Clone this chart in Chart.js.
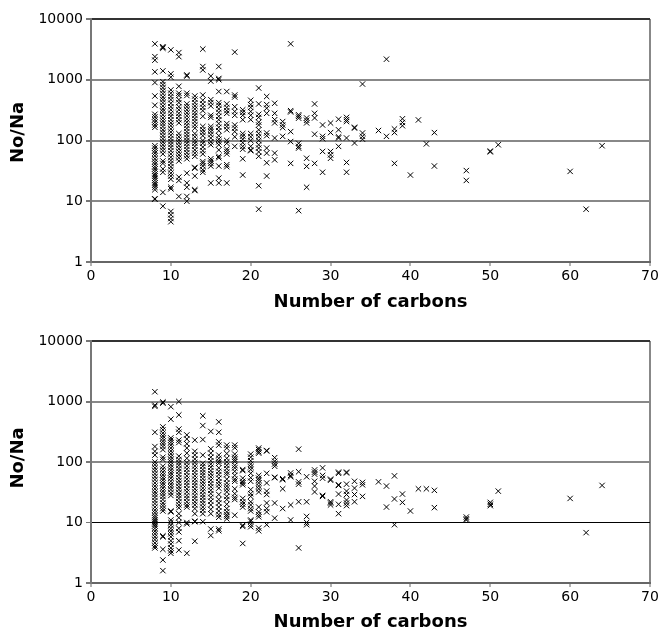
<!DOCTYPE html>
<html>
<head>
<meta charset="utf-8">
<script src="https://cdn.jsdelivr.net/npm/chart.js@4"></script>
<style>
  html, body { margin: 0; padding: 0; background: #fff; }
  #wrap { position: relative; width: 664px; height: 633px; }
  canvas { position: absolute; left: 0; }
</style>
</head>
<body>
<div id="wrap">
  <canvas id="topChart" width="664" height="316" style="top:0"></canvas>
  <canvas id="bottomChart" width="664" height="317" style="top:316px"></canvas>
</div>
<script>
'use strict';

const Y_TICKS = [1, 10, 100, 1000, 10000];
const X_TICKS = [0, 10, 20, 30, 40, 50, 60, 70];

// upper panel: ratios grouped by carbon number
const topCarbons = [8, 9, 10, 11, 12, 13, 14, 15, 16, 17, 18, 19, 20, 21, 22, 23, 24, 25, 26, 27, 28, 29, 30,
  31, 32, 33, 34, 36, 37, 38, 39, 40, 41, 42, 43, 47, 50, 51, 60, 62, 64];
const topRatios = [
  [3900, 2400, 2100, 1350, 900, 540, 380, 270, 245, 220, 200, 180, 165, 82, 75, 68, 62, 56, 50, 45, 41, 37, 34, 31, 28, 26, 24, 22, 20, 18.5, 17, 15.5, 11, 10.8],
  [3500, 3400, 3300, 1400, 930, 830, 740, 660, 590, 520, 470, 420, 370, 330, 300, 265, 235, 210, 190, 170, 150, 135, 120, 107, 95, 85, 76, 68, 60, 46, 42, 34, 30, 14, 8.3],
  [3100, 1250, 1100, 680, 600, 530, 470, 410, 360, 320, 280, 250, 220, 195, 175, 155, 138, 122, 108, 96, 86, 77, 68, 60, 53, 47, 42, 37, 33, 29, 26, 23, 17, 16, 6.8, 6, 5.2, 4.6],
  [2800, 2400, 780, 600, 550, 470, 420, 360, 320, 280, 250, 220, 195, 130, 115, 102, 92, 82, 73, 65, 58, 52, 46, 25, 22, 12],
  [1200, 1150, 600, 550, 400, 360, 320, 285, 255, 225, 200, 178, 158, 140, 125, 112, 100, 90, 80, 71, 63, 56, 50, 29, 20, 17, 12, 10],
  [540, 480, 420, 370, 330, 290, 260, 230, 205, 180, 160, 130, 115, 100, 90, 80, 70, 62, 55, 36, 35, 26, 15.5, 15],
  [3200, 1650, 1450, 560, 460, 400, 350, 310, 250, 170, 150, 135, 120, 100, 90, 78, 68, 60, 45, 42, 38, 33, 30],
  [1150, 950, 470, 420, 370, 260, 240, 170, 155, 140, 125, 110, 95, 85, 50, 46, 42, 38, 20],
  [1650, 1050, 1000, 640, 420, 380, 330, 290, 250, 220, 190, 165, 145, 120, 105, 95, 85, 70, 55, 52, 38, 24, 20],
  [640, 400, 350, 310, 280, 190, 170, 150, 100, 90, 72, 66, 60, 40, 37, 20],
  [2850, 560, 520, 360, 300, 260, 180, 160, 140, 115, 80],
  [320, 290, 260, 220, 130, 118, 105, 92, 80, 72, 50, 27],
  [460, 390, 350, 300, 260, 220, 130, 115, 100, 80, 70, 68],
  [730, 400, 270, 240, 200, 180, 150, 130, 115, 100, 85, 75, 65, 55, 18, 7.4],
  [530, 390, 340, 280, 133, 120, 75, 62, 43, 26],
  [410, 280, 220, 195, 110, 62, 48],
  [205, 180, 163, 117],
  [3900, 310, 295, 140, 96, 42],
  [265, 250, 233, 90, 80, 75, 7],
  [235, 215, 195, 51, 37.5, 17],
  [400, 280, 235, 127, 42],
  [180, 117, 107, 66, 30],
  [194, 135, 66, 58, 51],
  [224, 150, 115, 110, 80],
  [240, 220, 205, 110, 43.5, 30],
  [165, 160, 91],
  [850, 133, 117, 105],
  [146],
  [2180, 117],
  [155, 135, 42],
  [228, 198, 175],
  [27],
  [218],
  [88],
  [135, 38],
  [32, 22],
  [67, 65],
  [85],
  [31],
  [7.4],
  [82]
];

// lower panel
const bottomCarbons = [8, 9, 10, 11, 12, 13, 14, 15, 16, 17, 18, 19, 20, 21, 22, 23, 24, 25, 26, 27, 28, 29, 30,
  31, 32, 33, 34, 36, 37, 38, 39, 40, 41, 42, 43, 47, 50, 51, 60, 62, 64];
const bottomRatios = [
  [1450, 870, 830, 310, 180, 150, 130, 100, 90, 80, 72, 64, 57, 51, 45, 40, 36, 32, 29, 26, 23, 20.5, 18, 16, 14.5, 13, 12, 11, 10.2, 9.5, 8.8, 8, 7.2, 6.5, 5.8, 5.2, 4.6, 4.1, 3.8],
  [980, 940, 380, 340, 300, 270, 245, 220, 200, 180, 160, 120, 110, 85, 76, 68, 61, 55, 50, 45, 41, 37, 33, 30, 27, 24, 21, 19, 17, 15.5, 6, 5.8, 3.6, 2.4, 1.6],
  [820, 510, 250, 230, 210, 190, 170, 152, 136, 122, 110, 100, 90, 81, 73, 66, 60, 54, 48, 43, 39, 35, 31, 28, 15.5, 15, 11, 10, 9, 8, 7.2, 6.5, 5.8, 5, 4.4, 3.8, 3.4, 3.1],
  [1000, 600, 350, 310, 230, 210, 125, 110, 98, 88, 78, 70, 62, 55, 49, 44, 39, 35, 31, 28, 25, 22, 19.5, 17.5, 14, 12, 10, 8, 7, 5, 3.5],
  [280, 240, 200, 170, 140, 115, 98, 86, 76, 67, 59, 52, 46, 41, 36, 32, 28, 25, 22, 19.5, 18, 10, 9.5, 3.1],
  [230, 150, 130, 112, 98, 86, 76, 67, 59, 52, 46, 41, 36, 32, 28, 25, 22, 19.5, 17, 14, 10.5, 10.3, 4.9],
  [580, 400, 235, 130, 95, 85, 75, 67, 60, 53, 47, 42, 37, 33, 29, 26, 23, 20.5, 18, 16, 14, 10.3],
  [320, 165, 140, 120, 105, 92, 82, 72, 64, 57, 50, 44, 39, 34, 30, 26, 22.5, 19.5, 16.5, 14, 7.8, 6.1],
  [460, 310, 215, 190, 130, 115, 103, 95, 80, 70, 62, 54, 47, 42, 37, 29, 24, 21, 18, 15.5, 13.5, 12.2, 7.8, 7.3],
  [190, 170, 138, 115, 100, 88, 78, 68, 62, 52, 45, 40, 36, 32, 27, 24, 20, 17, 15, 13.5, 12.6, 11.5],
  [190, 172, 135, 120, 110, 102, 88, 80, 70, 60, 52, 48, 36, 30, 26, 24, 13.2],
  [75, 72, 54, 48, 45, 42, 25, 22, 20, 18, 9, 8.6, 4.5],
  [135, 120, 105, 92, 83, 75, 65, 55, 48, 35, 30, 27, 22, 19.5, 17, 15.5, 11, 10.5, 9.3, 8.5],
  [170, 160, 148, 140, 60, 54, 50, 45, 40, 36, 32, 18, 15, 13.5, 12.4, 8.1, 7.3],
  [155, 152, 65, 45, 33, 29, 21, 17, 15, 9.2],
  [118, 103, 93, 85, 56, 55, 21, 11.8],
  [53, 51, 36, 17],
  [66, 60, 57, 19.5, 11],
  [163, 69, 47, 43, 22, 3.8],
  [57, 22, 12.6, 10, 9.2],
  [74, 68, 63, 48, 40, 32],
  [80, 60, 54, 28, 27],
  [52, 50, 22, 21, 19.5],
  [68, 65, 42, 41, 29.5, 20, 14],
  [68, 66, 43, 33, 29, 23.5, 21, 19],
  [48, 37, 29, 22],
  [46, 42, 27],
  [47],
  [40, 18],
  [59, 24.5, 9.2],
  [29.5, 21.5],
  [15.5],
  [36],
  [36],
  [34, 17.6],
  [12.3, 11.5, 11],
  [21.5, 20, 19],
  [33],
  [25],
  [6.8],
  [41]
];

const FONT = 'DejaVu Sans, Verdana, sans-serif';

function toPoints(carbons, ratios) {
  return carbons.flatMap((c, i) => ratios[i].map(r => ({ x: c, y: r })));
}

// vertical axis title, sitting a little above the middle of the plot like the Excel original
const yTitlePlugin = {
  id: 'yTitle',
  afterDraw(chart, args, opts) {
    const { ctx, chartArea } = chart;
    ctx.save();
    ctx.translate(18.5, (chartArea.top + chartArea.bottom) / 2 - opts.shift);
    ctx.rotate(-Math.PI / 2);
    ctx.font = `bold 18px ${FONT}`;
    ctx.fillStyle = '#000';
    ctx.textAlign = 'center';
    ctx.textBaseline = 'middle';
    ctx.fillText(opts.text, 0, 0);
    ctx.restore();
  },
};

function makeChart(id, carbons, ratios, cfg) {
  const gridFor = v => cfg.grid[v] || ['#888', 2];
  return new Chart(document.getElementById(id), {
    type: 'scatter',
    data: {
      datasets: [{
        data: toPoints(carbons, ratios),
        pointStyle: 'crossRot',
        radius: 3.8,
        hoverRadius: 3.8,
        borderWidth: 1,
        borderColor: '#000',
        backgroundColor: '#000',
      }],
    },
    plugins: [yTitlePlugin],
    options: {
      responsive: false,
      animation: false,
      events: [],
      layout: { padding: { top: cfg.padTop, right: 14, left: 0, bottom: 0 } },
      plugins: {
        legend: { display: false },
        tooltip: { enabled: false },
        yTitle: { text: 'No/Na', shift: cfg.yTitleShift },
      },
      scales: {
        x: {
          type: 'linear',
          min: 0, max: 70,
          afterBuildTicks: s => { s.ticks = X_TICKS.map(v => ({ value: v })); },
          afterFit: s => { s.height = cfg.xHeight; },
          border: { color: '#666', width: 2 },
          grid: {
            color: ctx => (ctx.tick && ctx.tick.value === 70 ? '#888' : 'transparent'),
            lineWidth: 2,
            tickColor: '#666',
            tickLength: 4,
            tickWidth: 1,
          },
          ticks: { color: '#000', font: { family: FONT, size: 14 }, padding: 2, maxRotation: 0 },
          title: {
            display: true,
            text: 'Number of carbons',
            color: '#000',
            font: { family: FONT, size: 18, weight: 'bold' },
            padding: { top: 0, bottom: cfg.xTitlePad },
          },
        },
        y: {
          type: 'logarithmic',
          min: 1, max: 10000,
          afterBuildTicks: s => { s.ticks = Y_TICKS.map(v => ({ value: v })); },
          afterFit: s => { s.width = 91; },
          border: { color: '#777', width: 2 },
          grid: {
            color: ctx => gridFor(ctx.tick.value)[0],
            lineWidth: ctx => gridFor(ctx.tick.value)[1],
            tickColor: '#777',
            tickLength: 5,
          },
          ticks: {
            color: '#000',
            font: { family: FONT, size: 14 },
            padding: 3,
            callback: v => String(v),
          },
        },
      },
    },
  });
}

makeChart('topChart', topCarbons, topRatios, {
  padTop: 19, xHeight: 54, xTitlePad: 3, yTitleShift: 8,
  grid: { 10000: ['#333', 2] },
});
makeChart('bottomChart', bottomCarbons, bottomRatios, {
  padTop: 25, xHeight: 50, xTitlePad: 0, yTitleShift: 4,
  grid: { 10000: ['#333', 2], 10: ['#000', 1] },
});
</script>
</body>
</html>
